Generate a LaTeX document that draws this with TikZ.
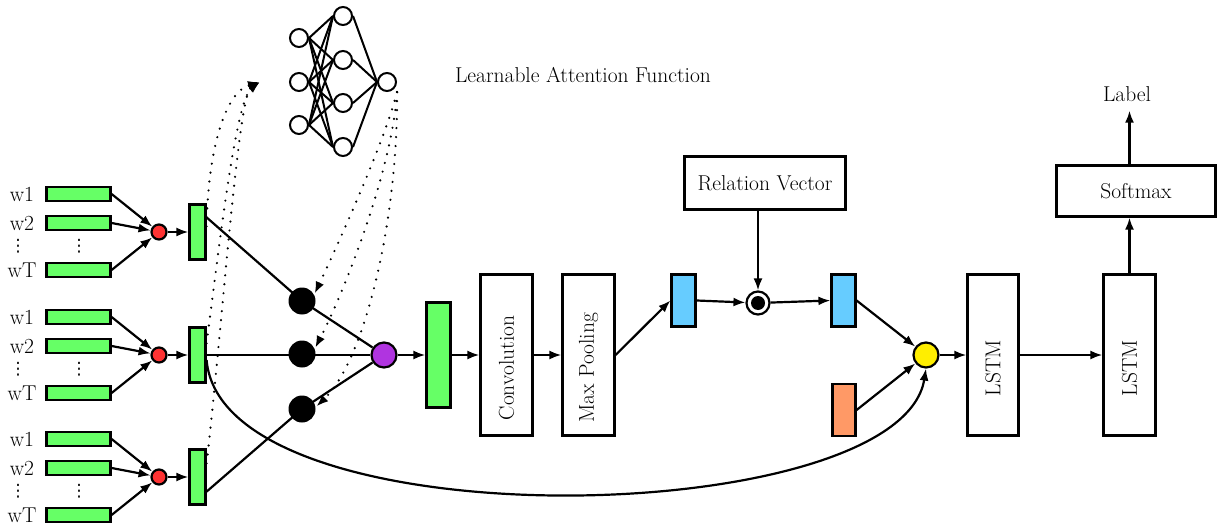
\documentclass[tikz,border=0pt]{standalone}
\usepackage{fontspec}
\newfontfamily\dvsans{DejaVu Sans}
\usetikzlibrary{arrows.meta}
\definecolor{embgreen}{RGB}{102,255,102}
\definecolor{cred}{RGB}{255,51,51}
\definecolor{cpurple}{RGB}{176,52,224}
\definecolor{cblue}{RGB}{102,204,255}
\definecolor{corange}{RGB}{255,153,102}
\definecolor{cyellow}{RGB}{255,238,0}
\newcommand\myvdots{{\dvsans\fontsize{17}{17}\selectfont ⋮}}
\begin{document}
\begin{tikzpicture}[x=1pt,y=-1pt, line width=2.2pt, font=\fontsize{21.5}{25}\selectfont,
  >={Latex[length=12pt,width=9pt]},
  emb/.style={draw, fill=embgreen, minimum width=64pt, minimum height=14pt, inner sep=0pt},
  vec/.style={draw, fill=embgreen, minimum width=16pt, minimum height=55pt, inner sep=0pt},
  redc/.style={circle, draw, fill=cred, minimum size=15pt, inner sep=0pt},
  blk/.style={circle, fill=black, minimum size=27pt, inner sep=0pt},
  nn/.style={circle, draw, fill=white, minimum size=18pt, inner sep=0pt, line width=2pt},
  tallbox/.style={draw, fill=white, minimum width=52pt, minimum height=161pt, inner sep=0pt},
  smallvec/.style={draw, minimum width=24pt, minimum height=52pt, inner sep=0pt},
  dots/.style={line width=2.4pt, line cap=round, dash pattern=on 0pt off 9pt},
  wlab/.style={inner sep=0pt}
]
\useasboundingbox (0,0) rectangle (1225,529);

% word embeddings
\foreach \g/\c in {1/232,2/355,3/477}{
  \node[wlab] at (22,\c-38) {w1};
  \node[emb] (a\g) at (78.5,\c-38) {};
  \node[wlab] at (22,\c-9) {w2};
  \node[emb] (b\g) at (78.5,\c-9) {};
  \node[wlab] at (18,\c+14) {\myvdots};
  \node[wlab] at (79,\c+14) {\myvdots};
  \node[wlab] at (22,\c+38) {wT};
  \node[emb] (t\g) at (78.5,\c+38) {};
  \node[redc] (r\g) at (159,\c) {};
  \node[vec] (v\g) at (197.5,\c) {};
  \draw[->] (a\g.east) -- (r\g);
  \draw[->] (b\g.east) -- (r\g);
  \draw[->] (t\g.east) -- (r\g);
  \draw[->] (r\g) -- (v\g);
}

% attention network
\node[nn] (i1) at (299,38) {};
\node[nn] (i2) at (299,82) {};
\node[nn] (i3) at (299,125) {};
\node[nn] (h1) at (343,16) {};
\node[nn] (h2) at (343,60) {};
\node[nn] (h3) at (343,103) {};
\node[nn] (h4) at (343,147) {};
\node[nn] (o) at (387,82) {};
\foreach \i in {1,2,3}{\foreach \h in {1,2,3,4}{\draw[line width=2pt] (i\i.east) -- (h\h.west);}}
\foreach \h in {1,2,3,4}{\draw[line width=2pt] (h\h.east) -- (o.west);}
\node[wlab] at (583,75) {Learnable Attention Function};
\coordinate (nnin) at (260,82);
\coordinate (nnout) at ([shift={(3pt,-3pt)}]o.south east);

% attention circles
\node[blk] (k1) at (302,301) {};
\node[blk] (k2) at (302,354) {};
\node[blk] (k3) at (302,409) {};
\node[circle, draw, fill=cpurple, minimum size=25pt, inner sep=0pt] (p) at (384,355) {};
\draw ([yshift=-14pt]v1.north east) -- (k1.center) -- (p);
\draw (v2.east) -- (p);
\draw ([yshift=14pt]v3.south east) -- (k3.center) -- (p);

% dotted arrows
\draw[dots,->] ([yshift=-23pt]v1.north east) .. controls (208,150) and (225,92) .. (nnin);
\draw[dots,->] ([yshift=-17pt]v2.north east) .. controls (220,240) and (236,100) .. (nnin);
\draw[dots,->] ([yshift=-15pt]v3.north east) .. controls (222,330) and (238,96) .. (nnin);
\draw[dots,->] (nnout) .. controls (385,140) and (340,240) .. (k1.30);
\draw[dots,->] (nnout) .. controls (392,170) and (345,290) .. (k2.25);
\draw[dots,->] (nnout) .. controls (398,220) and (365,360) .. (k3.10);

% CNN part
\node[draw, fill=embgreen, minimum width=24pt, minimum height=105pt, inner sep=0pt] (g) at (438.5,355) {};
\node[tallbox] (conv) at (506.5,355) {};
\node[rotate=90, wlab] at (506.5,368) {Convolution};
\node[tallbox] (mp) at (588.5,355) {};
\node[rotate=90, wlab] at (588.5,368) {Max Pooling};
\draw[->] (p) -- (g.west);
\draw[->] (g.east) -- (conv.west);
\draw[->] (conv.east) -- (mp.west);

\node[smallvec, fill=cblue] (b1) at (683.5,300.5) {};
\draw[->] (mp.east) -- (b1.west);
\node[circle, draw, fill=white, minimum size=23pt, inner sep=0pt] (od) at (758,303) {};
\node[circle, fill=black, minimum size=14pt, inner sep=0pt] at (od) {};
\node[draw, minimum width=161pt, minimum height=53pt, inner sep=0pt] (rel) at (765,183) {Relation Vector};
\draw[->] (od |- rel.south) -- (od);
\draw[->] (b1.east) -- (od);
\node[smallvec, fill=cblue] (b2) at (843.5,300.5) {};
\draw[->] (od) -- (b2.west);
\node[smallvec, fill=corange, minimum width=23pt] (or) at (844,410) {};
\node[circle, draw, fill=cyellow, minimum size=25pt, inner sep=0pt] (yel) at (926,355) {};
\draw[->] (b2.east) -- (yel);
\draw[->] (or.east) -- (yel);
\draw[->] ([yshift=-5pt]v2.east) .. controls (222,545) and (900,530) .. (yel.south);

% LSTM part
\node[tallbox, minimum width=51pt] (l1) at (993,355) {};
\node[rotate=90, wlab] at (993,368) {LSTM};
\node[tallbox] (l2) at (1129.5,355) {};
\node[rotate=90, wlab] at (1129.5,368) {LSTM};
\draw[->] (yel) -- (l1.west);
\draw[->] (l1.east) -- (l2.west);
\node[draw, minimum width=159pt, minimum height=51pt, inner sep=0pt] (soft) at (1136,191) {Softmax};
\node[wlab] (lab) at (1127,94) {Label};
\draw[->] (l2.north) -- (l2.north |- soft.south);
\draw[->] (l2.north |- soft.north) -- ([yshift=-8pt]l2.north |- lab.south);
\end{tikzpicture}
\end{document}
